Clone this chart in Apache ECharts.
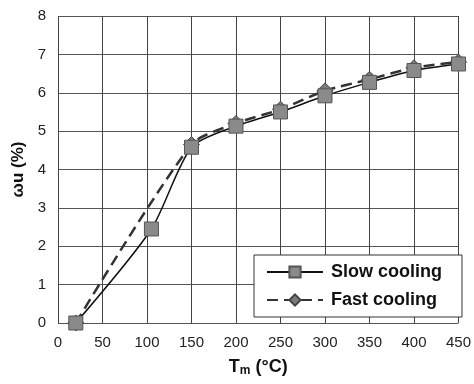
<!DOCTYPE html>
<html>
<head>
<meta charset="utf-8">
<script src="https://cdn.jsdelivr.net/npm/echarts@6/dist/echarts.min.js"></script>
<style>
  html, body { margin: 0; padding: 0; background: #fff; }
  #main { width: 474px; height: 384px; }
</style>
</head>
<body>
<div id="main"></div>
<script>
const slowTemps = [20, 105, 150, 200, 250, 300, 350, 400, 450];
const slowValues = [0, 2.45, 4.58, 5.13, 5.5, 5.92, 6.27, 6.58, 6.75];
const fastTemps = [20, 150, 200, 250, 300, 350, 400, 450];
const fastValues = [0, 4.65, 5.2, 5.57, 6.05, 6.35, 6.65, 6.8];

const pairs = (xs, ys) => xs.map((x, i) => [x, ys[i]]);

let chartDom = document.getElementById('main');
let myChart = echarts.init(chartDom);
let option = {
  animation: false,
  textStyle: {fontFamily: 'Liberation Sans, Arial, sans-serif'},
  grid: {left: 58, right: 12, top: 16, bottom: 61},
  xAxis: {
    type: 'value',
    min: 0,
    max: 450,
    interval: 50,
    name: '{t|T}{s|m}{t| (°C)}',
    nameLocation: 'middle',
    nameGap: 34,
    nameTextStyle: {
      rich: {
        t: {fontSize: 18, fontWeight: 'bold', color: '#111', fontFamily: 'Liberation Sans'},
        s: {fontSize: 12, fontWeight: 'bold', color: '#111', fontFamily: 'Liberation Sans', verticalAlign: 'bottom', padding: [8, 0, 0, 0]},
      },
    },
    axisLine: {show: false},
    axisTick: {show: false},
    axisLabel: {fontSize: 15, color: '#222', margin: 12},
    splitLine: {show: true, lineStyle: {color: '#444', width: 1}},
  },
  yAxis: {
    type: 'value',
    min: 0,
    max: 8,
    interval: 1,
    name: 'ωu (%)',
    nameLocation: 'middle',
    nameGap: 24,
    nameTextStyle: {fontSize: 17, fontWeight: 'bold', color: '#111'},
    axisLine: {show: false},
    axisTick: {show: false},
    axisLabel: {fontSize: 15, color: '#222', margin: 12},
    splitLine: {show: true, lineStyle: {color: '#555', width: 1}},
  },
  legend: {
    orient: 'vertical',
    left: 254,
    top: 255,
    padding: [8, 20, 8, 12],
    itemGap: 10,
    itemWidth: 56,
    itemHeight: 14,
    backgroundColor: '#fff',
    borderColor: '#333',
    borderWidth: 1,
    textStyle: {fontSize: 18, fontWeight: 'bold', color: '#111', padding: [0, 0, 0, 3]},
    data: ['Slow cooling', 'Fast cooling'],
  },
  series: [
    {
      name: 'Slow cooling',
      type: 'line',
      smooth: 0.25,
      data: pairs(slowTemps, slowValues),
      symbol: 'rect',
      symbolSize: 14,
      itemStyle: {color: '#8a8a8a', borderColor: '#555', borderWidth: 1},
      lineStyle: {color: '#111', width: 1.5},
      z: 3,
    },
    {
      name: 'Fast cooling',
      type: 'line',
      smooth: 0.25,
      data: pairs(fastTemps, fastValues),
      symbol: 'diamond',
      symbolSize: 16,
      itemStyle: {color: '#7a7a7a', borderColor: '#444', borderWidth: 1},
      lineStyle: {color: '#333', width: 2.5, type: [11, 6]},
      z: 2,
    },
  ],
};
option && myChart.setOption(option);
</script>
</body>
</html>
